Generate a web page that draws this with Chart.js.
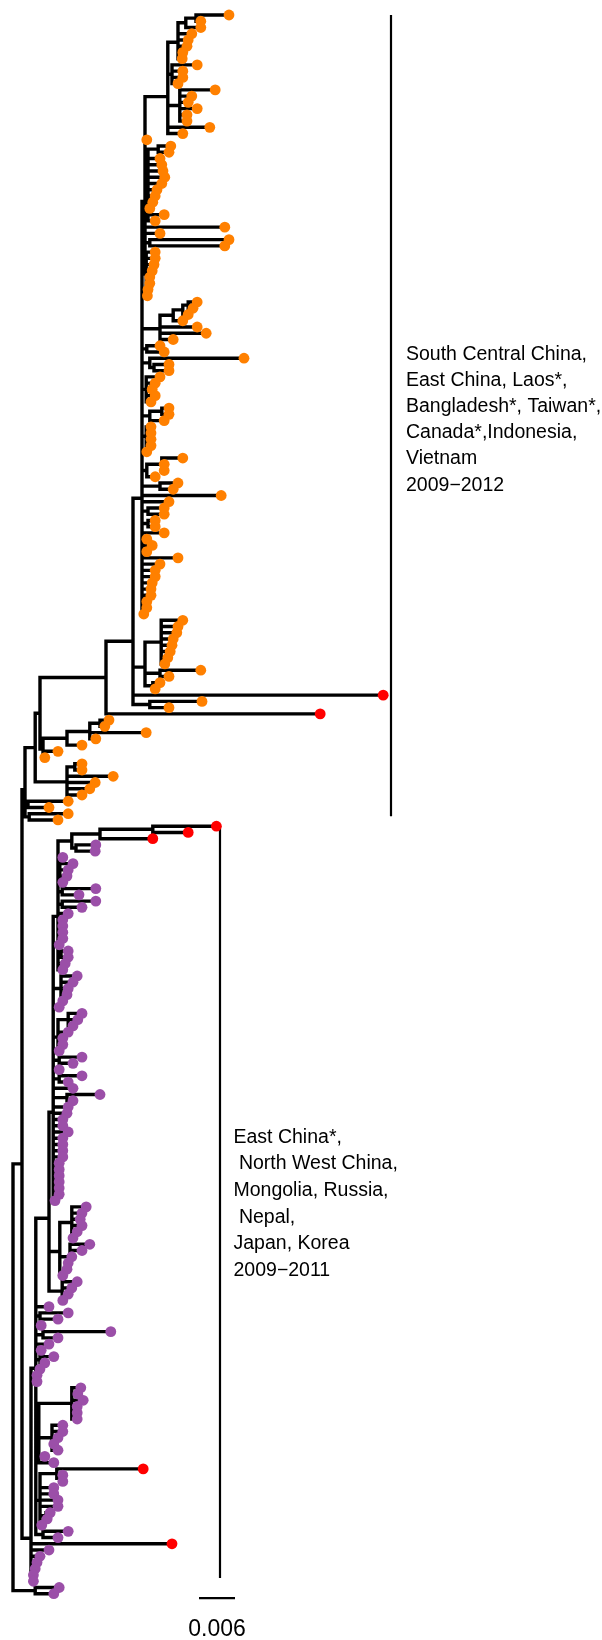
<!DOCTYPE html>
<html><head><meta charset="utf-8">
<script src="https://cdn.jsdelivr.net/npm/chart.js@4.4.0/dist/chart.umd.min.js"></script>
<style>html,body{margin:0;padding:0;background:#fff;overflow:hidden}#wrap{width:602px;height:1640px;position:relative}</style>
</head><body><div id="wrap"><canvas id="c" width="602" height="1640"></canvas></div>
<script>
// Tree written as nested arrays: [nodeDepth, child, child, ...]; a tip is its depth.
// Depths are in units of 0.001 substitutions/site from the root.
const O1 = [25.8, [27.5, [28.8, [30.5, 36.0, 31.3], 31.3], 29.8, 29.2, 29.0, 28.3, 28.2],
  [26.5, 30.7, 28.3, 28.3, 27.5], [27.8, 33.7, 29.8, 29.2, 30.7, 29.0, 29.0], 32.8, 28.3];
const O2 = [22.5, [24.2, 26.3, 26.0], 24.5, 24.8, 25.0, 25.3, 24.8, 24.0, 23.7, 23.3, 22.8];
const O3 = [22.5, 25.2, 23.7];
const O4 = [22.8, 36.0, 35.3];
const O5 = [22.2, 23.7, 23.7, 23.5, 23.2, 22.8, 22.8, 22.5, 22.4];
const N22 = [22.0, O1, 22.3, O2, O3, 35.3, 24.5, O4, O5];
const O6 = [24.5, [26.7, [28.3, [29.2, 30.7, 30.0], 29.2], 28.3], 30.7, 32.2, 26.7];
const O7 = [22.3, 24.5, 25.2];
const O8 = [22.8, 38.5, [23.5, 26.0, 26.0]];
const O9 = [22.2, 24.5, 23.7, 23.2, 23.7, 23.0];
const O10 = [22.8, [24.8, 26.0, 26.0], 25.2];
const O11 = [22.2, 23.0, 23.0, 23.0, 23.0];
const O12 = [22.3, [24.8, 28.3, 25.2, 25.2], 23.7];
const O13 = [24.5, 27.5, 26.7];
const N21 = [21.5, N22, O6, O7, O8, O9, O10, O11, 22.3, O12, O13, 34.7, 26.0,
  [22.5, 25.2, 25.2], [22.5, 23.7, 23.7], 25.2, 22.3, 23.2, 22.3, 27.5, 24.5,
  23.7, 23.7, 23.2, 23.0, 23.0, 22.3, 22.3, 21.8];
const S = [22.0, [24.7, 28.3, 27.5, 27.3, 26.7, 26.5, 26.2, 25.8, 25.3], [24.5, 31.3, 26.0], [23.3, 24.5, 23.7]];
const N20 = [20.0, N21, S, 61.7, [22.8, 31.5, 26.0]];
const N106 = [15.5, N20, 51.2];
const L1 = [5.0, [9.0, [12.8, [14.5, 16.0, 15.3], 22.2, 13.8], 11.5], 7.5, 5.3];
const N40 = [4.5, N106, L1];
const N67 = [9.0, [10.3, 11.5, 11.5], 16.7, 13.7, 12.8, 11.5];
const orangeClade = [2.0, [3.7, N40, N67], [2.5, 9.2, 6.0], [2.7, 9.2, 7.5]];

const redSub = [9.8, [14.5, [23.3, 33.9, 29.2], 23.3], [10.5, 13.8, 13.7]];
const PC2 = [7.5, redSub, 8.3, [7.8, 10.0, 9.2, 9.0, 8.3], [8.2, 13.8, 11.0], [8.2, 13.8, 11.5],
  9.2, 8.3, 8.3, 8.3, 8.3, 7.7, [8.0, 9.2, 9.2], 8.7, 8.3];
const PC = [6.7, PC2, [8.0, 10.7, 10.0, 9.2, 9.0, 8.3], 7.7, [7.5, [9.2, 11.5, 10.8, 10.0], 9.2, 8.3, 8.3, 7.7],
  [7.7, 11.5, 10.0], 7.7, [7.7, 11.5, 9.2], 10.0, [9.0, 14.5, 10.0], 9.2, 9.0, 8.3, 8.3, 9.2,
  8.3, 8.3, 8.3, 8.3, 7.7, 7.7, 7.7, 7.7, 7.7, 7.7, 7.0];
const Psub = [7.8, [9.8, 12.2, 11.5, 11.2, 11.5, 10.7, 10.0], [9.5, 12.8, 11.5, 9.8, 9.2, 9.0], 8.3];
const Psub2 = [8.2, 10.7, 9.8, 9.2, 8.3];
const R1 = [4.3, [9.8, 11.3, 10.8, 11.7, 10.7, 10.7, 10.7], [6.5, 8.3, 8.3, 7.5, 6.8, 7.5], 5.3, 6.8];
const R2 = [4.5, [7.3, 21.7, [8.0, 8.3, 8.3]], 6.8, 6.8, 7.5, 7.5, [5.5, 6.2, 5.7], 4.8];
const Q = [3.8, [6.0, PC, Psub, Psub2], 6.0, [4.5, 9.2, 7.5], 4.7, [5.0, 16.3, 7.5], 6.0, 4.7,
  [4.5, 6.8, 5.3], 4.5, 4.0, 4.0, R1, R2, [5.0, 9.2, 7.5]];
const purpleClade = [3.0, Q, 26.5, 6.0, 4.5, 4.0, 3.7, 3.4, 3.4];
const outgroup = [3.7, 7.7, 6.8];
const tree = [0, [1.5, orangeClade, purpleClade], outgroup];

const orangeTipCount = 130;
const redTips = [109, 112, 130, 131, 132, 233, 245];

const cladeBarX = [63.0, 34.5];
const cladeBarFrom = [0, 130];
const cladeBarTo = [128.4, 250.5];
const scaleBarValue = 0.006;
const depthUnit = 0.001;

const labelTop = ["South Central China,", "East China, Laos*,", "Bangladesh*, Taiwan*,", "Canada*,Indonesia,", "Vietnam", "2009\u22122012"];
const labelBottom = ["East China*,", " North West China,", "Mongolia, Russia,", " Nepal,", "Japan, Korea", "2009\u22122011"];

const COLORS = {orange: '#FF8000', purple: '#9B4FA8', red: '#FF0000'};

// ---- layout of the tree (tip rows, node heights = mean of children) ----
let tipCounter = 0;
const tipPts = [];
const segPts = [];
function addSeg(x0, y0, x1, y1) {
  segPts.push({x: x0, y: y0}, {x: x1, y: y1}, {x: x1, y: null});
}
function layout(node, parentDepth) {
  if (typeof node === 'number') {
    const y = tipCounter++;
    tipPts.push({x: node, y: y});
    if (parentDepth !== null) addSeg(parentDepth, y, node, y);
    return y;
  }
  const d = node[0];
  const ys = node.slice(1).map(ch => layout(ch, d));
  const y = ys.reduce((a, b) => a + b, 0) / ys.length;
  addSeg(d, Math.min(...ys), d, Math.max(...ys));
  if (parentDepth !== null) addSeg(parentDepth, y, d, y);
  return y;
}
layout(tree, null);
const tipColors = tipPts.map((p, i) => redTips.includes(i) ? COLORS.red : (i < orangeTipCount ? COLORS.orange : COLORS.purple));

const barPts = [];
cladeBarX.forEach((x, k) => { barPts.push({x: x, y: cladeBarFrom[k]}, {x: x, y: cladeBarTo[k]}, {x: x, y: null}); });
const scaleLen = scaleBarValue / depthUnit;
const scaleRow = tipCounter - 1 + 0.7;
const scalePts = [{x: 31, y: scaleRow}, {x: 31 + scaleLen, y: scaleRow}];

// pixel mapping: depth 0 -> x 13px, 1 unit -> 6px; tip row 0 -> 15px, 6.24px per row
const X_MIN = -13 / 6, X_MAX = X_MIN + 602 / 6;
const Y_MIN = -15 / 6.24, Y_MAX = Y_MIN + 1640 / 6.24;

const textPlugin = {
  id: 'labels',
  afterDraw(chart) {
    const ctx = chart.ctx;
    ctx.save();
    ctx.fillStyle = '#000';
    ctx.textBaseline = 'alphabetic';
    ctx.textAlign = 'left';
    ctx.font = '19.5px "Liberation Sans", Arial, sans-serif';
    labelTop.forEach((t, i) => ctx.fillText(t, 406, 359.5 + i * 26.2));
    labelBottom.forEach((t, i) => ctx.fillText(t, 233.5, 1142.7 + i * 26.6));
    ctx.font = '23px "Liberation Sans", Arial, sans-serif';
    ctx.textAlign = 'center';
    const xs = chart.scales.x;
    ctx.fillText(String(scaleBarValue), xs.getPixelForValue(31 + scaleLen / 2), 1636);
    ctx.restore();
  }
};

new Chart(document.getElementById('c'), {
  type: 'scatter',
  data: {
    datasets: [
      {label: 'tips', data: tipPts, pointRadius: 5.4, pointHoverRadius: 5.4, pointBorderWidth: 0,
       pointBackgroundColor: tipColors, pointBorderColor: tipColors, showLine: false, order: 0},
      {label: 'branches', data: segPts, showLine: true, spanGaps: false, borderColor: '#000', borderWidth: 3.4,
       borderCapStyle: 'square', borderJoinStyle: 'miter', pointRadius: 0, order: 1},
      {label: 'clades', data: barPts, showLine: true, spanGaps: false, borderColor: '#000', borderWidth: 2.2,
       borderCapStyle: 'butt', pointRadius: 0, order: 2},
      {label: 'scale', data: scalePts, showLine: true, borderColor: '#000', borderWidth: 2.2,
       borderCapStyle: 'butt', pointRadius: 0, order: 2}
    ]
  },
  options: {
    responsive: false,
    animation: false,
    events: [],
    layout: {padding: 0, autoPadding: false},
    plugins: {legend: {display: false}, tooltip: {enabled: false}, title: {display: false}},
    scales: {
      x: {type: 'linear', min: X_MIN, max: X_MAX, display: false},
      y: {type: 'linear', min: Y_MIN, max: Y_MAX, reverse: true, display: false}
    }
  },
  plugins: [textPlugin]
});
</script></body></html>
